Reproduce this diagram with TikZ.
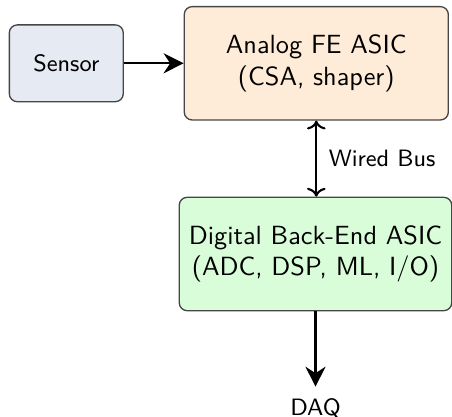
\documentclass[tikz,border=0pt]{standalone}
\usetikzlibrary{arrows.meta}
\renewcommand{\familydefault}{\sfdefault}
\definecolor{sensorfill}{RGB}{230,234,242}
\definecolor{afefill}{RGB}{254,235,216}
\definecolor{dbefill}{RGB}{217,252,217}
\definecolor{boxline}{RGB}{70,70,70}
\tikzset{
  blk/.style={draw=boxline, line width=0.5pt, rounded corners=3pt, align=center, inner sep=2pt},
  flow/.style={thick, -{Stealth[length=7.6pt,width=7.6pt]}},
  bus/.style={thick, <->}
}
\begin{document}
\begin{tikzpicture}[x=0.3802pt,y=-0.3802pt]
\useasboundingbox (0,0) rectangle (452,417);
\node[blk, fill=sensorfill, minimum width=43.3pt, minimum height=29.2pt, font=\small] (sensor) at (66.3,63.3) {Sensor};
\node[blk, fill=afefill, minimum width=100.4pt, minimum height=43.1pt] (afe) at (316.3,63.3) {Analog FE ASIC\\(CSA, shaper)};
\node[blk, fill=dbefill, minimum width=103.6pt, minimum height=43.1pt] (dbe) at (315.5,254) {Digital Back-End ASIC\\(ADC, DSP, ML, I/O)};
\node[anchor=north, inner sep=4.3pt, font=\small] (daq) at (315.5,386.7) {DAQ};
\draw[flow] (sensor) -- (afe);
\draw[bus] (afe.south) -- node[right=1pt, font=\small] (buslbl) {Wired Bus} (dbe.north -| afe.south);
\draw[flow] (dbe) -- (daq);
\end{tikzpicture}
\end{document}
